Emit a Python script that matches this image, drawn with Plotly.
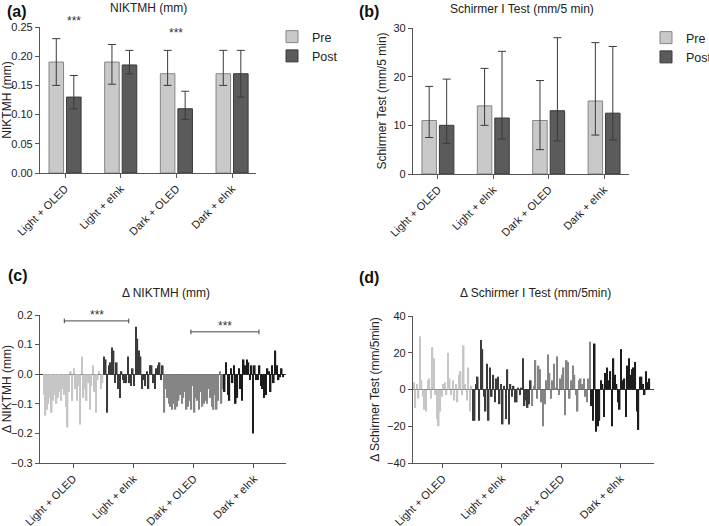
import plotly.graph_objects as go

W, H = 709, 526
FONT = "Liberation Sans, Arial, sans-serif"

categories = ["Light + OLED", "Light + eInk", "Dark + OLED", "Dark + eInk"]

# (a) NIKTMH (mm), mean with asymmetric error bars
nik_pre = [0.19, 0.19, 0.17, 0.17]
nik_pre_up = [0.04, 0.03, 0.04, 0.04]
nik_pre_dn = [0.04, 0.038, 0.02, 0.02]
nik_post = [0.13, 0.185, 0.11, 0.17]
nik_post_up = [0.037, 0.025, 0.03, 0.04]
nik_post_dn = [0.02, 0.015, 0.018, 0.04]
nik_sig = ["***", "", "***", ""]

# (b) Schirmer I test (mm/5 min)
sch_pre = [11, 14, 11, 15]
sch_pre_up = [7, 7.7, 8.2, 12]
sch_pre_dn = [3.5, 4, 6, 7]
sch_post = [10, 11.5, 13, 12.5]
sch_post_up = [9.5, 13.7, 15, 13.7]
sch_post_dn = [3.7, 4.3, 6.2, 5.5]

# (c) individual change in NIKTMH (mm)
d_nik_light_oled = [-0.07, -0.14, -0.12, -0.1, -0.08, -0.13, -0.09, -0.07, -0.1, -0.08,
                    -0.06, -0.09, -0.05, -0.07, -0.11, -0.18, -0.06, 0.01, -0.09, 0.02,
                    -0.05, -0.09, -0.04, -0.17, 0.06, -0.08, -0.05, -0.09, -0.03, -0.12,
                    -0.04, 0.03, -0.06, -0.13, -0.02, 0.01, -0.05, -0.03]
d_nik_light_eink = [0.06, 0.05, -0.13, 0.03, 0.04, 0.09, 0.08, -0.03, 0.04, -0.05,
                    -0.08, 0.01, -0.02, -0.03, -0.03, 0.06, -0.03, -0.04, 0.02, -0.04,
                    0.16, 0.12, 0.08, 0.06, -0.05, -0.02, -0.04, 0.01, -0.05, 0.03,
                    0.03, -0.03, -0.05, 0.02, 0.03, 0.04, -0.02, 0.03]
d_nik_dark_oled = [-0.13, -0.05, -0.08, -0.1, -0.11, -0.12, -0.1, -0.12, -0.11, -0.09,
                   -0.07, -0.1, -0.08, -0.06, -0.12, -0.11, -0.09, -0.12, -0.04, -0.13,
                   -0.08, -0.09, -0.12, -0.06, -0.11, -0.1, -0.09, -0.1, -0.05, -0.08,
                   -0.11, -0.12, -0.07, -0.12, -0.09, 0.01, -0.1, -0.05]
d_nik_dark_eink = [-0.06, 0.04, -0.07, -0.09, 0.02, -0.03, 0.03, -0.1, -0.08, 0.02,
                   -0.05, -0.09, 0.05, 0.03, 0.05, 0.04, -0.02, 0.03, -0.2, 0.03,
                   -0.02, -0.02, 0.03, -0.04, -0.05, -0.08, -0.07, 0.02, 0.01, -0.06,
                   0.03, -0.03, 0.08, 0.03, -0.02, -0.01, 0.02, -0.01]
nik_brackets = [((0, 0.34), (1, 0.41), 0.18), ((2, 0.44), (3, 0.57), 0.143)]

# (d) individual change in Schirmer I test (mm/5min)
d_sch_light_oled = [4, -10, 3, -5, 29, 5, -4, -11, -12, 5,
                    6, -5, 23, 17, -3, -16, -20, -12, -4, 3,
                    4, -3, 20, 6, -3, 5, -6, 3, -7, 8,
                    10, -3, 24, 3, -6, 12, -12, 2]
d_sch_light_eink = [-17, -17, 3, 7, -17, 27, 22, -4, -12, 14,
                    -17, 12, -4, 8, -7, 6, 7, -8, 3, -19,
                    2, -16, 11, -19, 3, -4, 2, -7, -7, 1,
                    -3, 1, 17, -9, -6, -10, -8, 5]
d_sch_dark_oled = [-9, 2, 16, -5, 13, 11, -7, -20, -8, 5,
                   19, 9, -5, 5, 14, 1, 18, -3, 6, 8,
                   12, -14, 16, 15, -5, 5, 13, 8, -3, -12,
                   5, 6, 3, 6, -4, -7, 6, 26]
d_sch_dark_eink = [-9, -17, 25, -23, -20, -17, 5, 3, -15, 9,
                   12, 5, 10, -20, 17, 8, 3, -7, -11, 22,
                   5, 6, -15, 13, 17, 8, 11, 12, 15, -12,
                   -22, 7, 7, 3, -3, 10, 4, 6]

group_colors = ["#c6c6c6", "#3b3b3b", "#858585", "#1c1c1c"]
pre_color, pre_line = "#c9c9c9", "#858585"
post_color, post_line = "#5b5b5b", "#3a3a3a"
err_color = "#3a3a3a"
axis_color = "#555555"

A_DOM = (173, 27)     # pixel rows of y=0 and y=top in panel (a)
A_RANGE = (0, 0.25)
A_XRANGE = [-0.45, 3.43]


def px_x(p):
    return p / W


def px_y(p):
    return 1 - p / H


def a_paper_y(v):
    lo, hi = px_y(A_DOM[0]), px_y(A_DOM[1])
    return lo + (v - A_RANGE[0]) / (A_RANGE[1] - A_RANGE[0]) * (hi - lo)


def flatten(groups):
    xs, ys, cs, centers, offsets = [], [], [], [], []
    i = 0
    for g, vals in enumerate(groups):
        offsets.append(i)
        centers.append(i + (len(vals) - 1) / 2)
        for v in vals:
            xs.append(i)
            ys.append(v)
            cs.append(group_colors[g])
            i += 1
    return xs, ys, cs, centers, offsets


fig = go.Figure()

# ---- (a)
fig.add_trace(go.Bar(x=categories, y=nik_pre, name="Pre", xaxis="x", yaxis="y",
                     marker=dict(color=pre_color, line=dict(color=pre_line, width=1)),
                     error_y=dict(type="data", array=nik_pre_up, arrayminus=nik_pre_dn,
                                  color=err_color, thickness=1, width=4),
                     legend="legend"))
fig.add_trace(go.Bar(x=categories, y=nik_post, name="Post", xaxis="x", yaxis="y",
                     marker=dict(color=post_color, line=dict(color=post_line, width=1)),
                     error_y=dict(type="data", array=nik_post_up, arrayminus=nik_post_dn,
                                  color=err_color, thickness=1, width=4),
                     legend="legend"))

# ---- (b)
fig.add_trace(go.Bar(x=categories, y=sch_pre, name="Pre", xaxis="x2", yaxis="y2",
                     marker=dict(color=pre_color, line=dict(color=pre_line, width=1)),
                     error_y=dict(type="data", array=sch_pre_up, arrayminus=sch_pre_dn,
                                  color=err_color, thickness=1, width=4),
                     legend="legend2"))
fig.add_trace(go.Bar(x=categories, y=sch_post, name="Post", xaxis="x2", yaxis="y2",
                     marker=dict(color=post_color, line=dict(color=post_line, width=1)),
                     error_y=dict(type="data", array=sch_post_up, arrayminus=sch_post_dn,
                                  color=err_color, thickness=1, width=4),
                     legend="legend2"))

# ---- (c)
cx, cy, cc, c_centers, c_offsets = flatten(
    [d_nik_light_oled, d_nik_light_eink, d_nik_dark_oled, d_nik_dark_eink])
fig.add_trace(go.Bar(x=cx, y=cy, width=1.0, xaxis="x3", yaxis="y3", showlegend=False,
                     marker=dict(color=cc, line=dict(width=0))))
group_len_c = len(d_nik_light_oled)
bx, by = [], []
for (g0, f0), (g1, f1), yv in nik_brackets:
    x0 = c_offsets[g0] + f0 * group_len_c
    x1 = c_offsets[g1] + f1 * group_len_c
    d = 0.008
    bx += [x0, x0, None, x0, x1, None, x1, x1, None]
    by += [yv - d, yv + d, None, yv, yv, None, yv - d, yv + d, None]
fig.add_trace(go.Scatter(x=bx, y=by, mode="lines", xaxis="x3", yaxis="y3", showlegend=False,
                         line=dict(color="#444444", width=1), hoverinfo="skip"))

# ---- (d)
dx, dy, dc, d_centers, d_offsets = flatten(
    [d_sch_light_oled, d_sch_light_eink, d_sch_dark_oled, d_sch_dark_eink])
fig.add_trace(go.Bar(x=dx, y=dy, width=1.0, xaxis="x4", yaxis="y4", showlegend=False,
                     marker=dict(color=dc, line=dict(width=0))))

tickfont = dict(family=FONT, size=11, color="#222222")
common_axis = dict(showline=True, linecolor=axis_color, linewidth=1.2, ticks="outside",
                   ticklen=4, tickcolor=axis_color, tickwidth=1.2, showgrid=False,
                   zeroline=False, tickfont=tickfont, automargin=False)
title_font = dict(family=FONT, size=12, color="#222222")

annotations = []
# significance stars (a)
n_cat = len(categories)
for i, (s, v, u) in enumerate(zip(nik_sig, nik_pre, nik_pre_up)):
    if s:
        xd = (i - A_XRANGE[0]) / (A_XRANGE[1] - A_XRANGE[0])
        annotations.append(dict(x=xd, y=a_paper_y(v + u + 0.03),
                                xref="x domain", yref="paper", text=s,
                                showarrow=False, yanchor="middle",
                                font=dict(family=FONT, size=12, color="#333333")))
for (g0, f0), (g1, f1), yv in nik_brackets:
    x0 = c_offsets[g0] + f0 * group_len_c
    x1 = c_offsets[g1] + f1 * group_len_c
    annotations.append(dict(x=(x0 + x1) / 2, y=yv + 0.02, xref="x3", yref="y3", text="***",
                            showarrow=False, yanchor="middle",
                            font=dict(family=FONT, size=12, color="#333333")))

# subplot titles and panel letters
titles = [("NIKTMH (mm)", 148, 8), ("Schirmer I Test (mm/5 min)", 522, 9),
          ("\u0394 NIKTMH (mm)", 166, 293), ("\u0394 Schirmer I Test (mm/5min)", 535, 293)]
for t, xp, yp in titles:
    annotations.append(dict(x=px_x(xp), y=px_y(yp), xref="paper", yref="paper", text=t,
                            showarrow=False, xanchor="center", yanchor="middle",
                            font=dict(family=FONT, size=12, color="#222222")))
letters = [("(a)", 5, 11), ("(b)", 357, 12), ("(c)", 6, 275), ("(d)", 357, 277)]
for t, xp, yp in letters:
    annotations.append(dict(x=px_x(xp), y=px_y(yp), xref="paper", yref="paper",
                            text="<b>" + t + "</b>", showarrow=False, xanchor="left",
                            yanchor="middle",
                            font=dict(family=FONT, size=16, color="#111111")))

fig.update_layout(
    width=W, height=H,
    margin=dict(l=0, r=0, t=0, b=0, autoexpand=False),
    paper_bgcolor="white", plot_bgcolor="white",
    barmode="group", bargap=0.37, bargroupgap=0.17,
    font=dict(family=FONT, color="#222222"),
    xaxis=dict(common_axis, domain=[px_x(40), px_x(256)], anchor="y", type="category",
               range=A_XRANGE, tickangle=-45),
    yaxis=dict(common_axis, domain=[px_y(A_DOM[0]), px_y(A_DOM[1])], anchor="x",
               range=list(A_RANGE), dtick=0.05, tickformat=".2f",
               title=dict(text="NIKTMH (mm)", font=title_font, standoff=4)),
    xaxis2=dict(common_axis, domain=[px_x(413), px_x(629)], anchor="y2", type="category",
                range=[-0.45, 3.45], tickangle=-45),
    yaxis2=dict(common_axis, domain=[px_y(174), px_y(28)], anchor="x2", range=[0, 30],
                dtick=10, title=dict(text="Schirmer Test (mm/5 min)", font=title_font,
                                     standoff=4)),
    xaxis3=dict(common_axis, domain=[px_x(40), px_x(286)], anchor="y3",
                range=[-2.4, 152.7], tickvals=c_centers, ticktext=categories,
                tickangle=-45),
    yaxis3=dict(common_axis, domain=[px_y(463), px_y(315)], anchor="x3", range=[-0.3, 0.2],
                dtick=0.1, tickformat=".1f", zeroline=True, zerolinecolor="#444444",
                zerolinewidth=1,
                title=dict(text="\u0394 NIKTMH (mm)", font=title_font, standoff=4)),
    xaxis4=dict(common_axis, domain=[px_x(413), px_x(654)], anchor="y4",
                range=[-0.5, 154], tickvals=d_centers, ticktext=categories,
                tickangle=-45),
    yaxis4=dict(common_axis, domain=[px_y(463), px_y(316)], anchor="x4", range=[-40, 40],
                dtick=20, zeroline=True, zerolinecolor="#444444", zerolinewidth=1,
                title=dict(text="\u0394 Schirmer Test (mm/5min)", font=title_font,
                           standoff=4)),
    legend=dict(x=px_x(272), y=px_y(22), xanchor="left", yanchor="top",
                font=dict(family=FONT, size=12.5, color="#222222"),
                bgcolor="rgba(0,0,0,0)"),
    legend2=dict(x=px_x(646), y=px_y(23), xanchor="left", yanchor="top",
                 font=dict(family=FONT, size=12.5, color="#222222"),
                 bgcolor="rgba(0,0,0,0)"),
    annotations=annotations,
)

fig.write_html("out.html", config={"displayModeBar": False},
               post_script="document.body.style.margin='0';document.body.style.overflow='hidden';")
